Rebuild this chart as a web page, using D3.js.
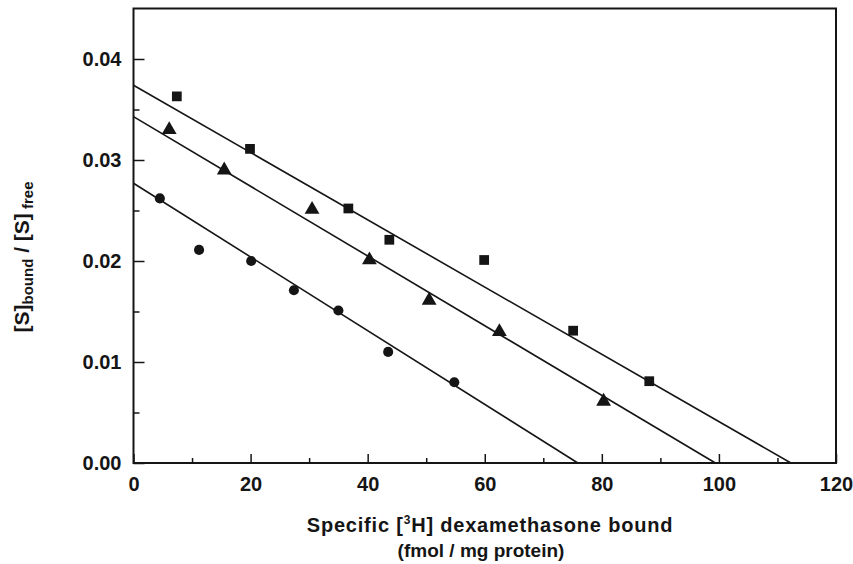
<!DOCTYPE html>
<html>
<head>
<meta charset="utf-8">
<script src="https://cdn.jsdelivr.net/npm/d3@7"></script>
<style>
  body { margin: 0; background: #fff; }
  svg { font-family: "Liberation Sans", Arial, sans-serif; font-weight: bold; }
</style>
</head>
<body>
<div id="chart"></div>
<script>
// Data
const xTicks = [0, 20, 40, 60, 80, 100, 120]
const xMinor = [10, 30, 50, 70, 90, 110]
const yTicks = [0, 0.01, 0.02, 0.03, 0.04]
const yMinor = [0.005, 0.015, 0.025, 0.035]

const squareX = [7.4, 19.9, 36.7, 43.7, 59.9, 75.1, 88.1]
const squareY = [0.0363, 0.0311, 0.0252, 0.0221, 0.0201, 0.0131, 0.0081]
const triX = [6.1, 15.5, 30.5, 40.3, 50.5, 62.5, 80.3]
const triY = [0.0330, 0.0290, 0.0251, 0.0201, 0.0161, 0.0130, 0.0061]
const circX = [4.5, 11.2, 20.1, 27.4, 35.0, 43.5, 54.8]
const circY = [0.0262, 0.0211, 0.0200, 0.0171, 0.0151, 0.0110, 0.0080]

// fitted lines: value at x = 0 and where they reach zero
const lineY0 = [0.0374, 0.0343, 0.0277]
const lineXInt = [112.3, 99.4, 75.9]

// Canvas
const width = 853, height = 564
const plotLeft = 133.5, plotRight = 836, plotTop = 8.5, plotBottom = 463

const xscale = d3.scaleLinear().domain([0, 120]).range([plotLeft, plotRight])
const yscale = d3.scaleLinear().domain([0, 0.045]).range([plotBottom, plotTop])

let svg = d3.select('#chart')
  .append('svg')
  .attr('width', width)
  .attr('height', height)

const ink = '#151515'

// axes
svg.append('g')
  .attr('transform', `translate(0,${plotBottom})`)
  .call(d3.axisBottom(xscale).tickValues(xTicks).tickSize(-9).tickPadding(14).tickFormat(d3.format('d')))
  .call(g => g.select('.domain').remove())
  .call(g => g.selectAll('line').attr('stroke', ink).attr('stroke-width', 1.5))
  .call(g => g.selectAll('text').attr('fill', ink).style('font-size', '20px').style('font-family', 'Liberation Sans, Arial, sans-serif').style('font-weight', 'bold'))

svg.append('g')
  .attr('transform', `translate(0,${plotBottom})`)
  .call(d3.axisBottom(xscale).tickValues(xMinor).tickSize(-5).tickFormat(''))
  .call(g => g.select('.domain').remove())
  .call(g => g.selectAll('line').attr('stroke', ink).attr('stroke-width', 1.5))

svg.append('g')
  .attr('transform', `translate(${plotLeft},0)`)
  .call(d3.axisLeft(yscale).tickValues(yTicks).tickSize(-11).tickPadding(12).tickFormat(d3.format('.2f')))
  .call(g => g.select('.domain').remove())
  .call(g => g.selectAll('line').attr('stroke', ink).attr('stroke-width', 1.5))
  .call(g => g.selectAll('text').attr('fill', ink).style('font-size', '20px').style('font-family', 'Liberation Sans, Arial, sans-serif').style('font-weight', 'bold'))

svg.append('g')
  .attr('transform', `translate(${plotLeft},0)`)
  .call(d3.axisLeft(yscale).tickValues(yMinor).tickSize(-6).tickFormat(''))
  .call(g => g.select('.domain').remove())
  .call(g => g.selectAll('line').attr('stroke', ink).attr('stroke-width', 1.5))

// frame
svg.append('rect')
  .attr('x', plotLeft)
  .attr('y', plotTop)
  .attr('width', plotRight - plotLeft)
  .attr('height', plotBottom - plotTop)
  .attr('fill', 'none')
  .attr('stroke', ink)
  .attr('stroke-width', 2)

// fit lines
svg.selectAll('line.fit')
  .data(lineY0.map((y0, i) => ({y0, xi: lineXInt[i]})))
  .enter()
  .append('line')
  .attr('class', 'fit')
  .attr('x1', xscale(0))
  .attr('y1', d => yscale(d.y0))
  .attr('x2', d => xscale(d.xi))
  .attr('y2', yscale(0))
  .attr('stroke', ink)
  .attr('stroke-width', 1.6)

// points
let drawPoints = (xs, ys, type, size) => {
  svg.append('g')
    .selectAll('path')
    .data(xs.map((x, i) => [x, ys[i]]))
    .enter()
    .append('path')
    .attr('transform', d => `translate(${xscale(d[0])},${yscale(d[1])})`)
    .attr('d', d3.symbol().type(type).size(size))
    .attr('fill', ink)
}
drawPoints(squareX, squareY, d3.symbolSquare, 95)
drawPoints(triX, triY, d3.symbolTriangle, 95)
drawPoints(circX, circY, d3.symbolCircle, 80)

// axis titles
let xt = svg.append('text')
  .attr('x', 490)
  .attr('y', 532)
  .attr('text-anchor', 'middle')
  .attr('fill', ink)
  .style('font-size', '20px')
  .style('letter-spacing', '0.8px')
xt.append('tspan').text('Specific [')
xt.append('tspan').attr('dy', -8).style('font-size', '12px').text('3')
xt.append('tspan').attr('dy', 8).text('H] dexamethasone bound')

svg.append('text')
  .attr('x', 481)
  .attr('y', 557)
  .attr('text-anchor', 'middle')
  .attr('fill', ink)
  .style('font-size', '19px')
  .text('(fmol / mg protein)')

let yt = svg.append('text')
  .attr('transform', 'translate(29,257) rotate(-90)')
  .attr('text-anchor', 'middle')
  .attr('fill', ink)
  .style('font-size', '21px')
yt.append('tspan').text('[S]')
yt.append('tspan').attr('dy', 4).style('font-size', '15px').text('bound')
yt.append('tspan').attr('dy', -4).text(' / [S]')
yt.append('tspan').attr('dy', 4).style('font-size', '15px').text(' free')
</script>
</body>
</html>
